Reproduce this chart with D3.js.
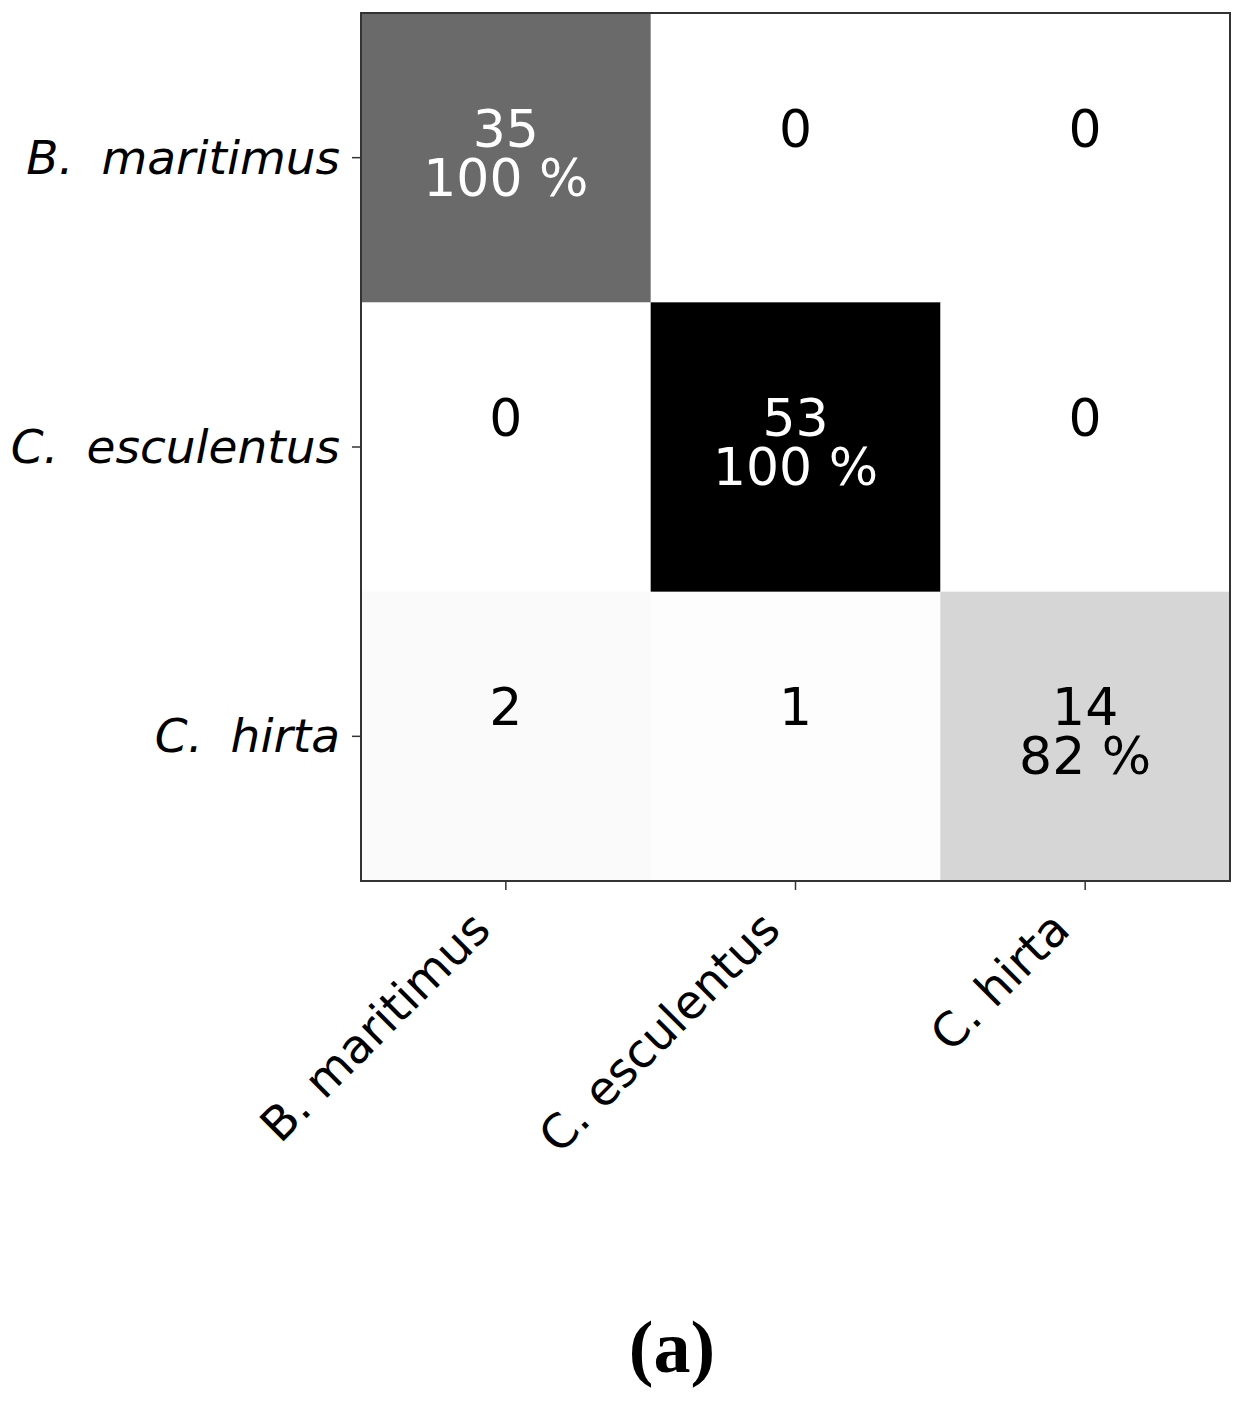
<!DOCTYPE html>
<html><head><meta charset="utf-8">
<script src="https://cdn.jsdelivr.net/npm/d3@7"></script>
<style>body{margin:0;background:#fff}svg{display:block}</style>
</head><body>
<svg id="chart" width="1244" height="1404"></svg>
<script>
const trueLabels = ["B. maritimus", "C. esculentus", "C. hirta"];
const predLabels = ["B. maritimus", "C. esculentus", "C. hirta"];
const counts = [
  [35, 0, 0],
  [0, 53, 0],
  [2, 1, 14]
];
const percents = [
  ["100 %", "", ""],
  ["", "100 %", ""],
  ["", "", "82 %"]
];
const caption = "(a)";

const svg = d3.select("#chart");
const L = 361, R = 1230, T = 13, B = 881;
const x = d3.scaleBand().domain(d3.range(3)).range([L, R]);
const y = d3.scaleBand().domain(d3.range(3)).range([T, B]);
const maxV = d3.max(counts.flat());
const greys = ["#ffffff","#f0f0f0","#d9d9d9","#bdbdbd","#969696","#737373","#525252","#252525","#000000"];
const color = d3.scaleLinear().domain(greys.map((_, i) => i / 8 * maxV)).range(greys);

const cells = [];
counts.forEach((row, i) => row.forEach((v, j) => cells.push({i, j, v, p: percents[i][j]})));

svg.append("g").selectAll("rect").data(cells).join("rect")
  .attr("x", d => x(d.j)).attr("y", d => y(d.i))
  .attr("width", x.bandwidth() + 0.5).attr("height", y.bandwidth() + 0.5)
  .attr("fill", d => color(d.v));

const font = "'DejaVu Sans', sans-serif";
const txt = svg.append("g").attr("font-family", font).attr("font-size", 52).attr("text-anchor", "middle");
cells.forEach(d => {
  const cx = x(d.j) + x.bandwidth() / 2, cy = y(d.i) + y.bandwidth() / 2;
  const fill = d.v > maxV / 2 ? "#ffffff" : "#000000";
  const t = txt.append("text").attr("fill", fill);
  t.append("tspan").attr("x", cx).attr("y", cy - 11).text(d.v);
  if (d.p) t.append("tspan").attr("x", cx).attr("y", cy + 38).text(d.p);
});

// frame
svg.append("rect").attr("x", L).attr("y", T).attr("width", R - L).attr("height", B - T)
  .attr("fill", "none").attr("stroke", "#333").attr("stroke-width", 2);

// y axis ticks + labels
const yg = svg.append("g");
trueLabels.forEach((lab, i) => {
  const cy = y(i) + y.bandwidth() / 2;
  yg.append("line").attr("x1", L - 9).attr("x2", L).attr("y1", cy).attr("y2", cy)
    .attr("stroke", "#333").attr("stroke-width", 1.5);
  const parts = lab.split(" ");
  const t = yg.append("text").attr("x", L - 21).attr("y", cy + 16)
    .attr("text-anchor", "end").attr("font-family", font).attr("font-style", "italic")
    .attr("font-size", 47).attr("fill", "#000");
  t.append("tspan").text(parts[0]);
  t.append("tspan").attr("dx", 28).text(parts.slice(1).join(" "));
});

// x axis ticks + labels
const xg = svg.append("g");
predLabels.forEach((lab, j) => {
  const cx = x(j) + x.bandwidth() / 2;
  xg.append("line").attr("x1", cx).attr("x2", cx).attr("y1", B).attr("y2", B + 9)
    .attr("stroke", "#333").attr("stroke-width", 1.5);
  xg.append("text").attr("transform", `translate(${cx - 13},${B + 51}) rotate(-45)`)
    .attr("text-anchor", "end").attr("font-family", font).attr("font-size", 47)
    .attr("fill", "#000").text(lab);
});

svg.append("text").attr("x", 672).attr("y", 1372).attr("text-anchor", "middle")
  .attr("font-family", "'Liberation Serif', 'Times New Roman', serif").attr("font-weight", "bold")
  .attr("font-size", 74).attr("fill", "#000").text(caption);
</script>
</body></html>
